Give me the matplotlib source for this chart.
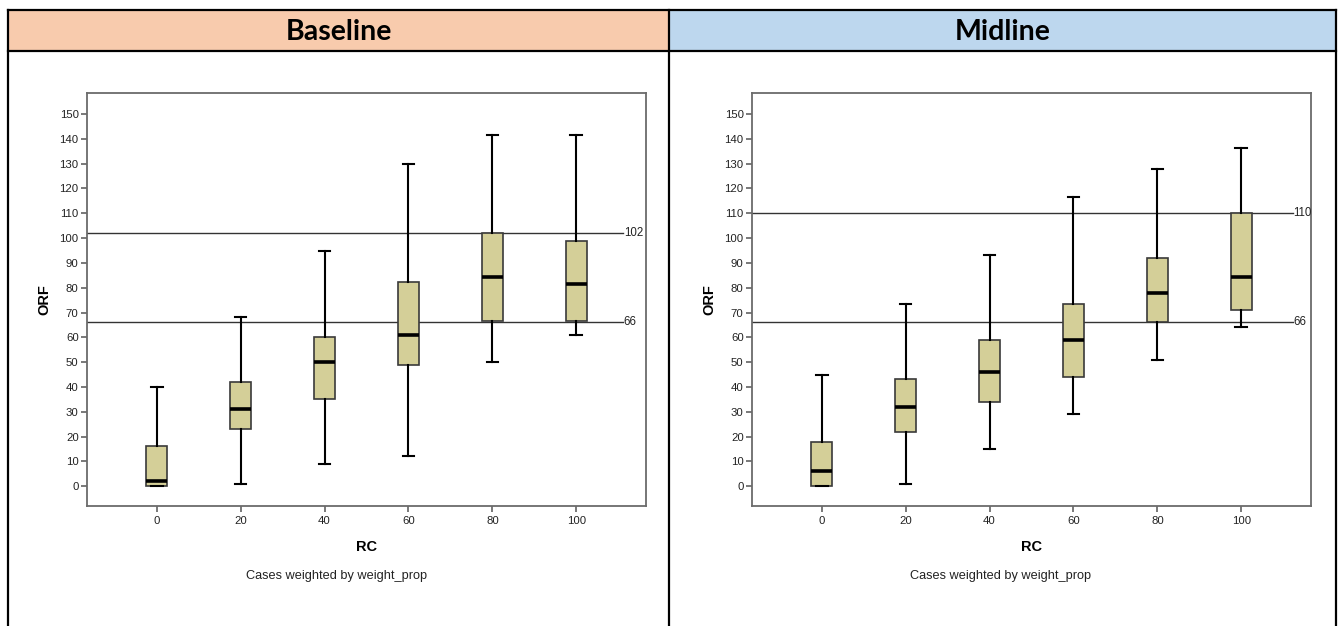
import numpy as np
import matplotlib.pyplot as plt
from matplotlib.patches import Rectangle
from matplotlib.lines import Line2D

# RC groups on the x axis
rc_groups = [0, 20, 40, 60, 80, 100]

# box summaries per RC group: lower whisker, Q1, median, Q3, upper whisker
base_low = [0, 1, 9, 12, 50, 61]
base_q1 = [0, 23, 35, 49, 66.5, 66.5]
base_med = [2, 31, 50, 61, 84.5, 81.5]
base_q3 = [16, 42, 60, 82.5, 102, 99]
base_high = [40, 68, 95, 130, 141.5, 141.5]
base_refs = [102, 66]

mid_low = [0, 1, 15, 29, 51, 64]
mid_q1 = [0, 22, 34, 44, 66, 71]
mid_med = [6, 32, 46, 59, 78, 84.5]
mid_q3 = [18, 43, 59, 73.5, 92, 110]
mid_high = [45, 73.5, 93, 116.5, 128, 136.5]
mid_refs = [110, 66]

panel_titles = ["Baseline", "Midline"]
header_colors = ["#F8CBAD", "#BDD7EE"]

W, H = 1344, 626
fig = plt.figure(figsize=(W / 100, H / 100), dpi=100)
fig.patch.set_facecolor("white")

def fx(px):
    return px / W

def fy(py):
    return 1 - py / H

# table-style header cells and borders
cells = [(8, 669), (669, 1336)]
for (x0, x1), title, col in zip(cells, panel_titles, header_colors):
    fig.patches.append(Rectangle((fx(x0), fy(51)), fx(x1 - x0), (41) / H,
                                 transform=fig.transFigure, facecolor=col,
                                 edgecolor="none", zorder=0))
    fig.text(fx((x0 + x1) / 2), fy(32), title, ha="center", va="center",
             fontsize=20.5, fontweight="bold", family=["Lato", "DejaVu Sans"])

border_kw = dict(color="black", lw=1.6, transform=fig.transFigure)
for x in (8, 669, 1336):
    fig.lines.append(Line2D([fx(x), fx(x)], [fy(10), fy(626)], **border_kw))
for y in (10, 51):
    fig.lines.append(Line2D([fx(8), fx(1336)], [fy(y), fy(y)], **border_kw))

plt.rcParams["font.family"] = ["Liberation Sans", "DejaVu Sans"]

def draw_panel(ax, low, q1, med, q3, high, refs, ref_end):
    stats = []
    for i in range(len(rc_groups)):
        stats.append(dict(whislo=low[i], q1=q1[i], med=med[i],
                          q3=q3[i], whishi=high[i], fliers=[]))
    pos = np.arange(len(rc_groups))
    ax.bxp(stats, positions=pos, widths=0.25, patch_artist=True,
           showfliers=False,
           boxprops=dict(facecolor="#D4CF98", edgecolor="#3a3a3a", lw=1.2),
           medianprops=dict(color="black", lw=2.6),
           whiskerprops=dict(color="black", lw=1.5),
           capprops=dict(color="black", lw=1.5),
           capwidths=0.14)
    ax.set_xlim(-0.83, 5.83)
    ax.set_ylim(-8, 158.5)
    for r in refs:
        ax.plot([-0.83, ref_end], [r, r], color="#333333", lw=1.0, zorder=1)
        ax.text(ref_end + 0.005, r, str(r), ha="left", va="center",
                fontsize=8.3, color="#222222")
    ax.set_xticks(pos)
    ax.set_xticklabels([str(g) for g in rc_groups])
    ax.set_yticks(np.arange(0, 151, 10))
    ax.tick_params(axis="both", direction="out", length=4, width=1.1,
                   colors="#555555", labelcolor="#222222", labelsize=8.2)
    ax.tick_params(axis="y", pad=2)
    for s in ax.spines.values():
        s.set_color("#6b6b6b")
        s.set_linewidth(1.3)
    ax.set_ylabel("ORF", fontsize=10.5, fontweight="bold", labelpad=6)
    ax.set_xlabel("RC", fontsize=10.5, fontweight="bold", labelpad=10)

ax1 = fig.add_axes([fx(87), fy(506), fx(646 - 87), (506 - 93) / H])
draw_panel(ax1, base_low, base_q1, base_med, base_q3, base_high,
           base_refs, 5.56)
ax2 = fig.add_axes([fx(752), fy(506), fx(1311 - 752), (506 - 93) / H])
draw_panel(ax2, mid_low, mid_q1, mid_med, mid_q3, mid_high,
           mid_refs, 5.61)

for cx in (337, 1001):
    fig.text(fx(cx), fy(576), "Cases weighted by weight_prop", ha="center",
             va="center", fontsize=9.2, color="#222222")

fig.savefig("out.png", dpi=100)
